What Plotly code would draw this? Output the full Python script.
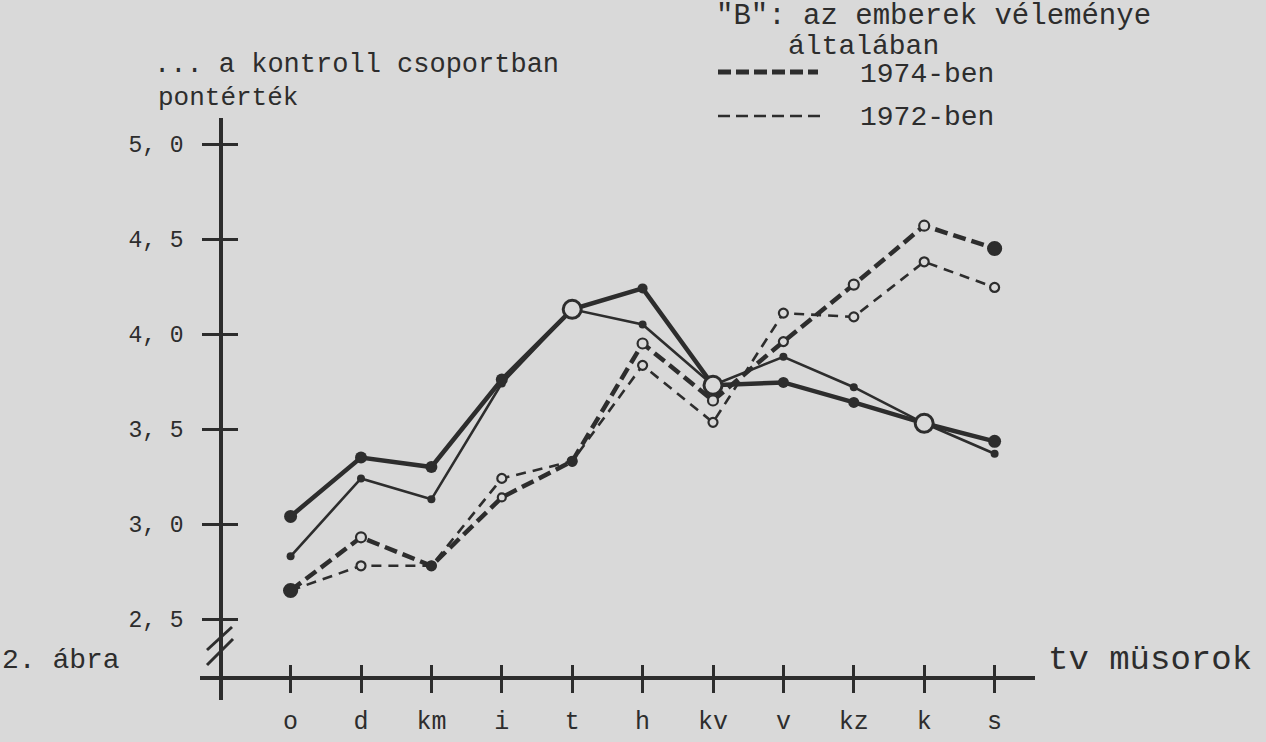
import plotly.graph_objects as go

# ---------------- data ----------------
categories = ["o", "d", "km", "i", "t", "h", "kv", "v", "kz", "k", "s"]
ctrl_1974 = [3.04, 3.35, 3.30, 3.76, 4.13, 4.24, 3.73, 3.745, 3.64, 3.53, 3.435]
ctrl_1972 = [2.83, 3.24, 3.13, 3.74, 4.13, 4.05, 3.73, 3.88, 3.72, 3.53, 3.37]
b_1974 = [2.65, 2.93, 2.78, 3.14, 3.33, 3.95, 3.65, 3.96, 4.26, 4.57, 4.45]
b_1972 = [2.65, 2.78, 2.78, 3.24, 3.33, 3.835, 3.535, 4.11, 4.09, 4.38, 4.245]
y_ticks = [2.5, 3.0, 3.5, 4.0, 4.5, 5.0]
y_ticktext = ["2, 5", "3, 0", "3, 5", "4, 0", "4, 5", "5, 0"]

# ---------------- style ----------------
INK = "#2d2d2d"
BG = "#d9d9d9"
FONT = "Liberation Mono"
W, H = 1266, 742
L, R, T, B = 200, 231, 118, 42
PW, PH = W - L - R, H - T - B
X0_PX, DX_PX = 290.6, 70.4          # pixel of first category, spacing
Y25_PX, DY_PX = 619.0, 190.0        # pixel of 2.5, pixels per unit
AXIS_X_PX, AXIS_Y_PX = 221, 678

xr = [(L - X0_PX) / DX_PX, (W - R - X0_PX) / DX_PX]
yr = [2.5 - (H - B - Y25_PX) / DY_PX, 2.5 + (Y25_PX - T) / DY_PX]
xpos = list(range(len(categories)))


def px(xp):
    return (xp - L) / PW


def py(yp):
    return (H - B - yp) / PH


fig = go.Figure()

# thin dashed (1972)
fig.add_trace(go.Scatter(
    x=xpos, y=b_1972, mode="lines+markers", opacity=1,
    line=dict(color=INK, width=2.6, dash="10px,7px"),
    marker=dict(symbol="circle", size=9, color=BG, opacity=1,
                line=dict(color=INK, width=2.2)),
    showlegend=False))
# thick dashed (1974)
fig.add_trace(go.Scatter(
    x=xpos, y=b_1974, mode="lines+markers", opacity=1,
    line=dict(color=INK, width=4.5, dash="13px,6px"),
    marker=dict(symbol="circle", size=[13, 10, 8, 8, 8, 10, 10, 9, 10, 10, 13],
                color=[INK, BG, INK, BG, INK, BG, BG, BG, BG, BG, INK],
                opacity=1, line=dict(color=INK, width=2.2)),
    showlegend=False))
# thin solid (control 1972)
fig.add_trace(go.Scatter(
    x=xpos, y=ctrl_1972, mode="lines+markers", opacity=1,
    line=dict(color=INK, width=2.6),
    marker=dict(symbol="circle", size=8, color=INK, opacity=1,
                line=dict(width=0)),
    showlegend=False))
# thick solid (control 1974)
fig.add_trace(go.Scatter(
    x=xpos, y=ctrl_1974, mode="lines+markers", opacity=1,
    line=dict(color=INK, width=4.5),
    marker=dict(symbol="circle",
                size=[13, 12, 12, 12, 18, 10, 18, 11, 11, 18, 13],
                color=[INK, INK, INK, INK, BG, INK, BG, INK, INK, BG, INK],
                opacity=1,
                line=dict(color=INK, width=[0, 0, 0, 0, 3, 0, 3, 0, 0, 3, 0])),
    showlegend=False))
# helper trace so that the overlaid tick axes are drawn
fig.add_trace(go.Scatter(x=[None], y=[None], xaxis="x2", yaxis="y2",
                         showlegend=False, hoverinfo="skip"))

common = dict(showgrid=False, zeroline=False, automargin=False)
fig.update_layout(
    width=W, height=H,
    margin=dict(l=L, r=R, t=T, b=B, autoexpand=False),
    paper_bgcolor=BG, plot_bgcolor=BG,
    showlegend=False,
    xaxis=dict(range=xr, tickvals=xpos, ticktext=categories,
               showline=True, linewidth=3.5, linecolor=INK,
               ticks="outside", ticklen=13, tickwidth=2.5, tickcolor=INK,
               anchor="free", position=py(AXIS_Y_PX),
               tickfont=dict(family=FONT, size=25, color=INK),
               ticklabelstandoff=6, **common),
    xaxis2=dict(range=xr, overlaying="x", matches="x", tickvals=xpos,
                showline=False,
                ticks="inside", ticklen=13, tickwidth=2.5, tickcolor=INK,
                showticklabels=False, anchor="free", position=py(AXIS_Y_PX),
                **common),
    yaxis=dict(range=yr, tickvals=y_ticks, ticktext=y_ticktext,
               showline=True, linewidth=3.5, linecolor=INK,
               ticks="outside", ticklen=17, tickwidth=3, tickcolor=INK,
               anchor="free", position=px(AXIS_X_PX),
               tickfont=dict(family=FONT, size=23, color=INK),
               ticklabelstandoff=14, **common),
    yaxis2=dict(range=yr, overlaying="y", matches="y", tickvals=y_ticks,
                showline=False,
                ticks="inside", ticklen=16, tickwidth=3, tickcolor=INK,
                showticklabels=False, anchor="free", position=px(AXIS_X_PX),
                **common),
)

# axis break marks "//"
for (x1, y1, x2, y2) in [(207, 650, 232, 627), (207, 665, 233, 639)]:
    fig.add_shape(type="line", xref="paper", yref="paper",
                  x0=px(x1), y0=py(y1), x1=px(x2), y1=py(y2),
                  line=dict(color=INK, width=3))

# legend line samples
fig.add_shape(type="line", xref="paper", yref="paper",
              x0=px(718), y0=py(72), x1=px(818), y1=py(72),
              line=dict(color=INK, width=5, dash="13px,5px"))
fig.add_shape(type="line", xref="paper", yref="paper",
              x0=px(718), y0=py(116), x1=px(822), y1=py(116),
              line=dict(color=INK, width=2.6, dash="12px,6px"))

texts = [
    ('"B": az emberek véleménye', 714, 17, 29),
    ("általában", 786, 46, 28),
    ("1974-ben", 858, 74, 28),
    ("1972-ben", 858, 117, 28),
    ("... a kontroll csoportban", 152, 65, 27),
    ("pontérték", 156, 98, 26),
    ("2. ábra", 0, 660, 28),
    ("tv müsorok", 1046, 660, 34),
]
for t, x, y, s in texts:
    fig.add_annotation(text=t, xref="paper", yref="paper", x=px(x), y=py(y),
                       xanchor="left", yanchor="middle", showarrow=False,
                       font=dict(family=FONT, size=s, color=INK))

fig.write_html(
    "out.html",
    config={"displayModeBar": False},
    post_script="document.body.style.margin='0';"
                "document.body.style.background='%s';" % BG)
